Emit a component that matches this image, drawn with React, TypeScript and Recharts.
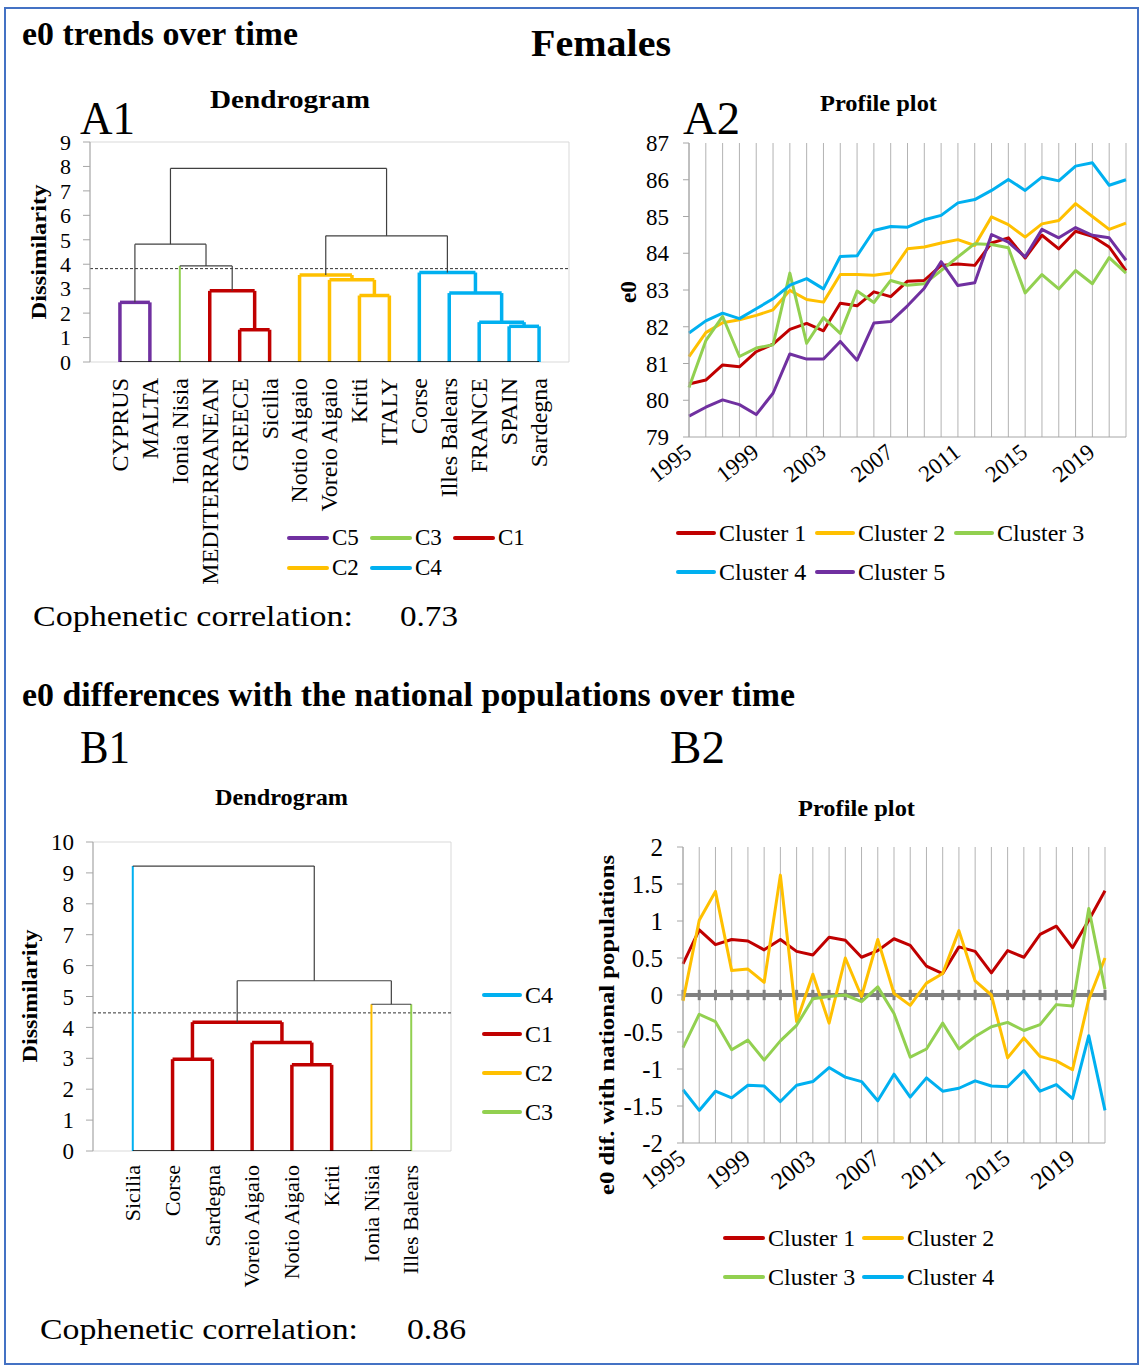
import React from "react";
import {
  LineChart,
  Line,
  XAxis,
  YAxis,
  CartesianGrid,
  ReferenceLine,
  ReferenceArea,
} from "recharts";

const FONT = '"Liberation Serif", "Times New Roman", serif';

const RED = "#C00000";
const YELLOW = "#FFC000";
const GREEN = "#92D050";
const BLUE = "#00B0F0";
const PURPLE = "#7030A0";
const LINK = "#404040";
const AXIS_GREY = "#a6a6a6";

// ---- A1: dendrogram of e0 trends ----
const a1Leaves = [
  "CYPRUS", "MALTA", "Ionia Nisia", "MEDITERRANEAN", "GREECE", "Sicilia",
  "Notio Aigaio", "Voreio Aigaio", "Kriti", "ITALY", "Corse",
  "Illes Balears", "FRANCE", "SPAIN", "Sardegna",
];
const a1LeafColors = [
  PURPLE, PURPLE, GREEN, RED, RED, RED, YELLOW, YELLOW, YELLOW, YELLOW,
  BLUE, BLUE, BLUE, BLUE, BLUE,
];
// [left node, right node, height, colour]; node ids >= leaf count point at earlier merges
const a1Merges: [number, number, number, string][] = [
  [4, 5, 1.32, RED], // 15
  [13, 14, 1.46, BLUE], // 16
  [12, 16, 1.63, BLUE], // 17
  [0, 1, 2.44, PURPLE], // 18
  [8, 9, 2.72, YELLOW], // 19
  [11, 17, 2.82, BLUE], // 20
  [3, 15, 2.91, RED], // 21
  [7, 19, 3.36, YELLOW], // 22
  [6, 22, 3.56, YELLOW], // 23
  [10, 20, 3.66, BLUE], // 24
  [2, 21, 3.93, LINK], // 25
  [18, 25, 4.82, LINK], // 26
  [23, 24, 5.16, LINK], // 27
  [26, 27, 7.92, LINK], // 28
];
const a1Cut = 3.82;
const a1Ticks = [0, 1, 2, 3, 4, 5, 6, 7, 8, 9];

// ---- B1: dendrogram of e0 differences ----
const b1Leaves = [
  "Sicilia", "Corse", "Sardegna", "Voreio Aigaio", "Notio Aigaio", "Kriti",
  "Ionia Nisia", "Illes Balears",
];
const b1LeafColors = [BLUE, RED, RED, RED, RED, RED, YELLOW, GREEN];
const b1Merges: [number, number, number, string][] = [
  [4, 5, 2.79, RED], // 8
  [1, 2, 2.97, RED], // 9
  [3, 8, 3.51, RED], // 10
  [9, 10, 4.17, RED], // 11
  [6, 7, 4.75, LINK], // 12
  [11, 12, 5.51, LINK], // 13
  [0, 13, 9.22, LINK], // 14
];
const b1Cut = 4.47;
const b1Ticks = [0, 1, 2, 3, 4, 5, 6, 7, 8, 9, 10];

// ---- A2 / B2: profile plots ----
const years = [
  1995, 1996, 1997, 1998, 1999, 2000, 2001, 2002, 2003, 2004, 2005, 2006,
  2007, 2008, 2009, 2010, 2011, 2012, 2013, 2014, 2015, 2016, 2017, 2018,
  2019, 2020, 2021,
];

const a2Cluster1 = [80.44, 80.55, 80.96, 80.91, 81.32, 81.53, 81.93, 82.09, 81.89, 82.64, 82.57, 82.95, 82.82, 83.24, 83.26, 83.67, 83.71, 83.67, 84.28, 84.42, 83.87, 84.49, 84.12, 84.6, 84.46, 84.17, 83.53];
const a2Cluster2 = [81.19, 81.84, 82.11, 82.19, 82.31, 82.46, 82.99, 82.74, 82.67, 83.42, 83.42, 83.4, 83.46, 84.12, 84.17, 84.28, 84.37, 84.21, 84.99, 84.78, 84.44, 84.8, 84.89, 85.35, 85.0, 84.65, 84.82];
const a2Cluster3 = [80.35, 81.62, 82.28, 81.19, 81.42, 81.51, 83.46, 81.55, 82.25, 81.82, 82.97, 82.66, 83.26, 83.13, 83.17, 83.53, 83.9, 84.26, 84.24, 84.15, 82.92, 83.42, 83.03, 83.53, 83.17, 83.88, 83.46];
const a2Cluster4 = [81.83, 82.16, 82.37, 82.22, 82.49, 82.76, 83.13, 83.31, 83.03, 83.91, 83.93, 84.62, 84.73, 84.71, 84.91, 85.03, 85.37, 85.46, 85.71, 86.01, 85.71, 86.07, 85.97, 86.37, 86.46, 85.85, 86.0];
const a2Cluster5 = [79.57, 79.81, 80.01, 79.88, 79.61, 80.19, 81.26, 81.12, 81.12, 81.6, 81.09, 82.1, 82.14, 82.57, 83.05, 83.77, 83.12, 83.2, 84.51, 84.3, 83.9, 84.65, 84.42, 84.7, 84.49, 84.42, 83.81];
const a2Ticks = [79, 80, 81, 82, 83, 84, 85, 86, 87];

const b2Cluster1 = [0.42, 0.88, 0.68, 0.75, 0.73, 0.61, 0.75, 0.59, 0.54, 0.78, 0.74, 0.51, 0.6, 0.76, 0.67, 0.39, 0.29, 0.65, 0.59, 0.3, 0.6, 0.51, 0.82, 0.93, 0.64, 1.01, 1.41];
const b2Cluster2 = [-0.08, 1.01, 1.4, 0.33, 0.35, 0.17, 1.62, -0.36, 0.28, -0.38, 0.5, -0.02, 0.75, 0.02, -0.14, 0.16, 0.29, 0.87, 0.19, 0.0, -0.85, -0.58, -0.83, -0.89, -1.01, -0.06, 0.5];
const b2Cluster3 = [-0.71, -0.26, -0.36, -0.74, -0.61, -0.88, -0.62, -0.41, -0.05, -0.02, 0.0, -0.09, 0.11, -0.25, -0.84, -0.73, -0.38, -0.73, -0.56, -0.43, -0.37, -0.48, -0.4, -0.13, -0.15, 1.17, 0.08];
const b2Cluster4 = [-1.28, -1.56, -1.3, -1.39, -1.22, -1.23, -1.44, -1.22, -1.17, -0.98, -1.11, -1.17, -1.43, -1.07, -1.38, -1.12, -1.3, -1.26, -1.16, -1.23, -1.24, -1.02, -1.3, -1.21, -1.4, -0.55, -1.56];
const b2Ticks = [-2, -1.5, -1, -0.5, 0, 0.5, 1, 1.5, 2];

const a2Series = [
  { key: "c1", name: "Cluster 1", color: RED, values: a2Cluster1 },
  { key: "c2", name: "Cluster 2", color: YELLOW, values: a2Cluster2 },
  { key: "c3", name: "Cluster 3", color: GREEN, values: a2Cluster3 },
  { key: "c4", name: "Cluster 4", color: BLUE, values: a2Cluster4 },
  { key: "c5", name: "Cluster 5", color: PURPLE, values: a2Cluster5 },
];
const b2Series = [
  { key: "c1", name: "Cluster 1", color: RED, values: b2Cluster1 },
  { key: "c2", name: "Cluster 2", color: YELLOW, values: b2Cluster2 },
  { key: "c3", name: "Cluster 3", color: GREEN, values: b2Cluster3 },
  { key: "c4", name: "Cluster 4", color: BLUE, values: b2Cluster4 },
];

const a1Legend = [
  { name: "C5", color: PURPLE },
  { name: "C3", color: GREEN },
  { name: "C1", color: RED },
  { name: "C2", color: YELLOW },
  { name: "C4", color: BLUE },
];
const b1Legend = [
  { name: "C4", color: BLUE },
  { name: "C1", color: RED },
  { name: "C2", color: YELLOW },
  { name: "C3", color: GREEN },
];

// free-standing text of the figure
const headings = [
  { text: "e0 trends over time", x: 22, y: 45, size: 33, bold: true, len: 276 },
  { text: "Females", x: 531, y: 56, size: 38, bold: true, len: 140 },
  { text: "A1", x: 80, y: 134, size: 46, bold: false, len: 55 },
  { text: "Dendrogram", x: 210, y: 108, size: 26, bold: true, len: 160 },
  { text: "A2", x: 683, y: 134, size: 46, bold: false, len: 57 },
  { text: "Profile plot", x: 820, y: 111, size: 23, bold: true, len: 117 },
  { text: "Cophenetic correlation:", x: 33, y: 626, size: 30, bold: false, len: 320 },
  { text: "0.73", x: 400, y: 626, size: 30, bold: false, len: 58 },
  { text: "e0 differences with the national populations over time", x: 22, y: 706, size: 33, bold: true, len: 773 },
  { text: "B1", x: 80, y: 763, size: 46, bold: false, len: 50 },
  { text: "B2", x: 670, y: 763, size: 46, bold: false, len: 55 },
  { text: "Dendrogram", x: 215, y: 805, size: 23, bold: true, len: 133 },
  { text: "Profile plot", x: 798, y: 816, size: 23, bold: true, len: 117 },
  { text: "Cophenetic correlation:", x: 40, y: 1339, size: 30, bold: false, len: 318 },
  { text: "0.86", x: 407, y: 1339, size: 30, bold: false, len: 59 },
];
const axisTitles = [
  { text: "Dissimilarity", cx: 38, cy: 252, size: 22, len: 135 },
  { text: "e0", cx: 628, cy: 292, size: 23, len: 22 },
  { text: "Dissimilarity", cx: 29, cy: 996, size: 22, len: 133 },
  { text: "e0 dif. with national populations", cx: 606, cy: 1025, size: 22, len: 340 },
];

type Seg = { pts: { x: number; y: number }[]; color: string; width: number };

// Turns the merge list into U-shaped links: two verticals and a crossbar.
function buildSegments(leafColors: string[], merges: [number, number, number, string][]) {
  const n = leafColors.length;
  const pos: number[] = [];
  const hgt: number[] = [];
  for (let i = 0; i < n; i++) {
    pos.push(i + 1);
    hgt.push(0);
  }
  const segs: Seg[] = [];
  merges.forEach(([a, b, h, color]) => {
    const inCluster = color !== LINK;
    const side = (node: number) => {
      if (inCluster) return { color, width: 3.5 };
      if (node < n) return { color: leafColors[node], width: 2 };
      return { color: LINK, width: 1.2 };
    };
    segs.push({ pts: [{ x: pos[a], y: hgt[a] }, { x: pos[a], y: h }], ...side(a) });
    segs.push({ pts: [{ x: pos[b], y: hgt[b] }, { x: pos[b], y: h }], ...side(b) });
    segs.push({
      pts: [{ x: pos[a], y: h }, { x: pos[b], y: h }],
      color: inCluster ? color : LINK,
      width: inCluster ? 3.5 : 1.2,
    });
    pos.push((pos[a] + pos[b]) / 2);
    hgt.push(h);
  });
  return segs;
}

function LeafTick(props: any) {
  const { x, y, payload, names, fontSize, gap } = props;
  const ty = y + gap;
  return (
    <text
      x={x}
      y={ty}
      transform={`rotate(-90, ${x}, ${ty})`}
      textAnchor="end"
      dy="0.33em"
      fontSize={fontSize}
      fontFamily={FONT}
      fill="#000"
    >
      {names[payload.value - 1]}
    </text>
  );
}

function YearTick(props: any) {
  const { x, y, payload, fontSize } = props;
  if ((payload.value - years[0]) % 4 !== 0) return <g />;
  const tx = x + 4;
  const ty = y + 18;
  return (
    <text
      x={tx}
      y={ty}
      transform={`rotate(-38, ${tx}, ${ty})`}
      textAnchor="end"
      fontSize={fontSize}
      fontFamily={FONT}
      fill="#000"
    >
      {payload.value}
    </text>
  );
}

function Dendrogram(props: any) {
  const { leaves, leafColors, merges, cut, yTicks, left, top, width, height, margin, yAxisWidth, xAxisHeight, tickFont, leafFont, leafGap } = props;
  const segs = buildSegments(leafColors, merges);
  const leafTicks = leaves.map((_: string, i: number) => i + 1);
  const xMax = leaves.length + 1;
  const yMax = yTicks[yTicks.length - 1];
  const baseline = [
    { x: leafTicks[0], y: 0 },
    { x: leafTicks[leafTicks.length - 1], y: 0 },
  ];
  return (
    <div style={{ position: "absolute", left, top }}>
      <LineChart width={width} height={height} margin={margin}>
        <ReferenceArea x1={0} x2={xMax} y1={0} y2={yMax} fill="none" stroke="#d9d9d9" ifOverflow="visible" />
        <XAxis
          type="number"
          dataKey="x"
          domain={[0, xMax]}
          ticks={leafTicks}
          interval={0}
          axisLine={false}
          tickLine={false}
          tickSize={0}
          tickMargin={0}
          height={xAxisHeight}
          allowDataOverflow
          tick={(p: any) => <LeafTick {...p} names={leaves} fontSize={leafFont} gap={leafGap} />}
        />
        <YAxis
          type="number"
          domain={[0, yMax]}
          ticks={yTicks}
          interval={0}
          width={yAxisWidth}
          axisLine={{ stroke: AXIS_GREY }}
          tickLine={{ stroke: AXIS_GREY }}
          tickSize={7}
          tickMargin={12}
          allowDataOverflow
          tick={{ fontSize: tickFont, fill: "#000", fontFamily: FONT }}
        />
        <ReferenceLine y={cut} stroke="#333" strokeDasharray="3 2" strokeWidth={1} />
        {segs.map((s, i) => (
          <Line
            key={i}
            data={s.pts}
            dataKey="y"
            type="linear"
            stroke={s.color}
            strokeWidth={s.width}
            dot={false}
            activeDot={false}
            isAnimationActive={false}
          />
        ))}
        <Line
          data={baseline}
          dataKey="y"
          type="linear"
          stroke="#000"
          strokeWidth={1.5}
          dot={false}
          activeDot={false}
          isAnimationActive={false}
        />
      </LineChart>
    </div>
  );
}

function ProfilePlot(props: any) {
  const { series, yTicks, left, top, width, height, margin, yAxisWidth, xAxisHeight, tickFont, yearFont, zeroAxis } = props;
  const data = years.map((year, i) => {
    const row: any = { year };
    series.forEach((s: any) => {
      row[s.key] = s.values[i];
    });
    return row;
  });
  return (
    <div style={{ position: "absolute", left, top }}>
      <LineChart width={width} height={height} margin={margin} data={data}>
        <CartesianGrid horizontal={false} stroke="#b3b3b3" />
        <XAxis
          type="number"
          dataKey="year"
          domain={[years[0], years[years.length - 1]]}
          ticks={years}
          interval={0}
          tickLine={false}
          tickSize={0}
          tickMargin={0}
          height={xAxisHeight}
          axisLine={{ stroke: AXIS_GREY }}
          tick={(p: any) => <YearTick {...p} fontSize={yearFont} />}
        />
        <YAxis
          type="number"
          domain={[yTicks[0], yTicks[yTicks.length - 1]]}
          ticks={yTicks}
          interval={0}
          width={yAxisWidth}
          axisLine={{ stroke: AXIS_GREY }}
          tickLine={{ stroke: AXIS_GREY }}
          tickSize={6}
          tickMargin={14}
          allowDataOverflow
          tick={{ fontSize: tickFont, fill: "#000", fontFamily: FONT }}
        />
        {zeroAxis && <ReferenceLine y={0} stroke="#808080" strokeWidth={4} />}
        {zeroAxis &&
          years.map((yr) => (
            <ReferenceLine
              key={yr}
              segment={[
                { x: yr, y: -0.07 },
                { x: yr, y: 0.07 },
              ]}
              stroke="#808080"
              strokeWidth={3}
            />
          ))}
        {series.map((s: any) => (
          <Line
            key={s.key}
            dataKey={s.key}
            name={s.name}
            type="linear"
            stroke={s.color}
            strokeWidth={3}
            strokeLinejoin="round"
            dot={false}
            activeDot={false}
            isAnimationActive={false}
          />
        ))}
      </LineChart>
    </div>
  );
}

function LegendBlock(props: any) {
  const { items, left, top, cols, colWidth, rowHeight, lineWidth, fontSize } = props;
  return (
    <>
      {items.map((it: any, i: number) => (
        <div
          key={it.name}
          style={{
            position: "absolute",
            left: left + (i % cols) * colWidth,
            top: top + Math.floor(i / cols) * rowHeight - rowHeight / 2,
            height: rowHeight,
            display: "flex",
            alignItems: "center",
            fontFamily: FONT,
            fontSize,
            color: "#000",
            whiteSpace: "nowrap",
          }}
        >
          <span
            style={{
              display: "inline-block",
              width: lineWidth,
              height: 4,
              borderRadius: 2,
              background: it.color,
              marginRight: 3,
            }}
          />
          <span>{it.name}</span>
        </div>
      ))}
    </>
  );
}

export default function App() {
  return (
    <div
      style={{
        position: "relative",
        width: 1143,
        height: 1369,
        margin: -8,
        background: "#fff",
        overflow: "hidden",
      }}
    >
      {/* frame around the whole figure, pinned to the viewport */}
      <div
        style={{
          position: "fixed",
          left: 4,
          top: 7,
          width: 1135,
          height: 1358,
          border: "2px solid #4472C4",
          boxSizing: "border-box",
          zIndex: 5,
          pointerEvents: "none",
        }}
      />
      <Dendrogram
        leaves={a1Leaves}
        leafColors={a1LeafColors}
        merges={a1Merges}
        cut={a1Cut}
        yTicks={a1Ticks}
        left={20}
        top={120}
        width={560}
        height={500}
        margin={{ top: 22, right: 11, left: 25, bottom: 28 }}
        yAxisWidth={45}
        xAxisHeight={230}
        tickFont={22}
        leafFont={24}
        leafGap={16}
      />
      <ProfilePlot
        series={a2Series}
        yTicks={a2Ticks}
        left={600}
        top={120}
        width={540}
        height={400}
        margin={{ top: 23, right: 14, left: 29, bottom: 23 }}
        yAxisWidth={60}
        xAxisHeight={60}
        tickFont={23}
        yearFont={23}
        zeroAxis={false}
      />
      <Dendrogram
        leaves={b1Leaves}
        leafColors={b1LeafColors}
        merges={b1Merges}
        cut={b1Cut}
        yTicks={b1Ticks}
        left={20}
        top={820}
        width={440}
        height={480}
        margin={{ top: 22, right: 9, left: 28, bottom: 9 }}
        yAxisWidth={45}
        xAxisHeight={140}
        tickFont={23}
        leafFont={22}
        leafGap={14}
      />
      <ProfilePlot
        series={b2Series}
        yTicks={b2Ticks}
        left={590}
        top={820}
        width={540}
        height={400}
        margin={{ top: 27, right: 25, left: 33, bottom: 17 }}
        yAxisWidth={60}
        xAxisHeight={60}
        tickFont={25}
        yearFont={24}
        zeroAxis
      />

      <LegendBlock items={a1Legend} left={287} top={538} cols={3} colWidth={83} rowHeight={30} lineWidth={42} fontSize={23} />
      <LegendBlock items={a2Series} left={676} top={533} cols={3} colWidth={139} rowHeight={39} lineWidth={40} fontSize={24} />
      <LegendBlock items={b1Legend} left={482} top={995} cols={1} colWidth={80} rowHeight={39} lineWidth={40} fontSize={24} />
      <LegendBlock items={b2Series} left={723} top={1238} cols={2} colWidth={139} rowHeight={39} lineWidth={42} fontSize={24} />

      <svg
        width={1143}
        height={1369}
        style={{ position: "absolute", left: 0, top: 0, pointerEvents: "none" }}
      >
        {headings.map((h, i) => (
          <text
            key={i}
            x={h.x}
            y={h.y}
            fontSize={h.size}
            fontWeight={h.bold ? "bold" : "normal"}
            fontFamily={FONT}
            textLength={h.len}
            lengthAdjust="spacingAndGlyphs"
            fill="#000"
          >
            {h.text}
          </text>
        ))}
        {axisTitles.map((t, i) => (
          <text
            key={i}
            x={t.cx}
            y={t.cy}
            transform={`rotate(-90, ${t.cx}, ${t.cy})`}
            textAnchor="middle"
            dy="0.35em"
            fontSize={t.size}
            fontWeight="bold"
            fontFamily={FONT}
            textLength={t.len}
            lengthAdjust="spacingAndGlyphs"
            fill="#000"
          >
            {t.text}
          </text>
        ))}
      </svg>
    </div>
  );
}
